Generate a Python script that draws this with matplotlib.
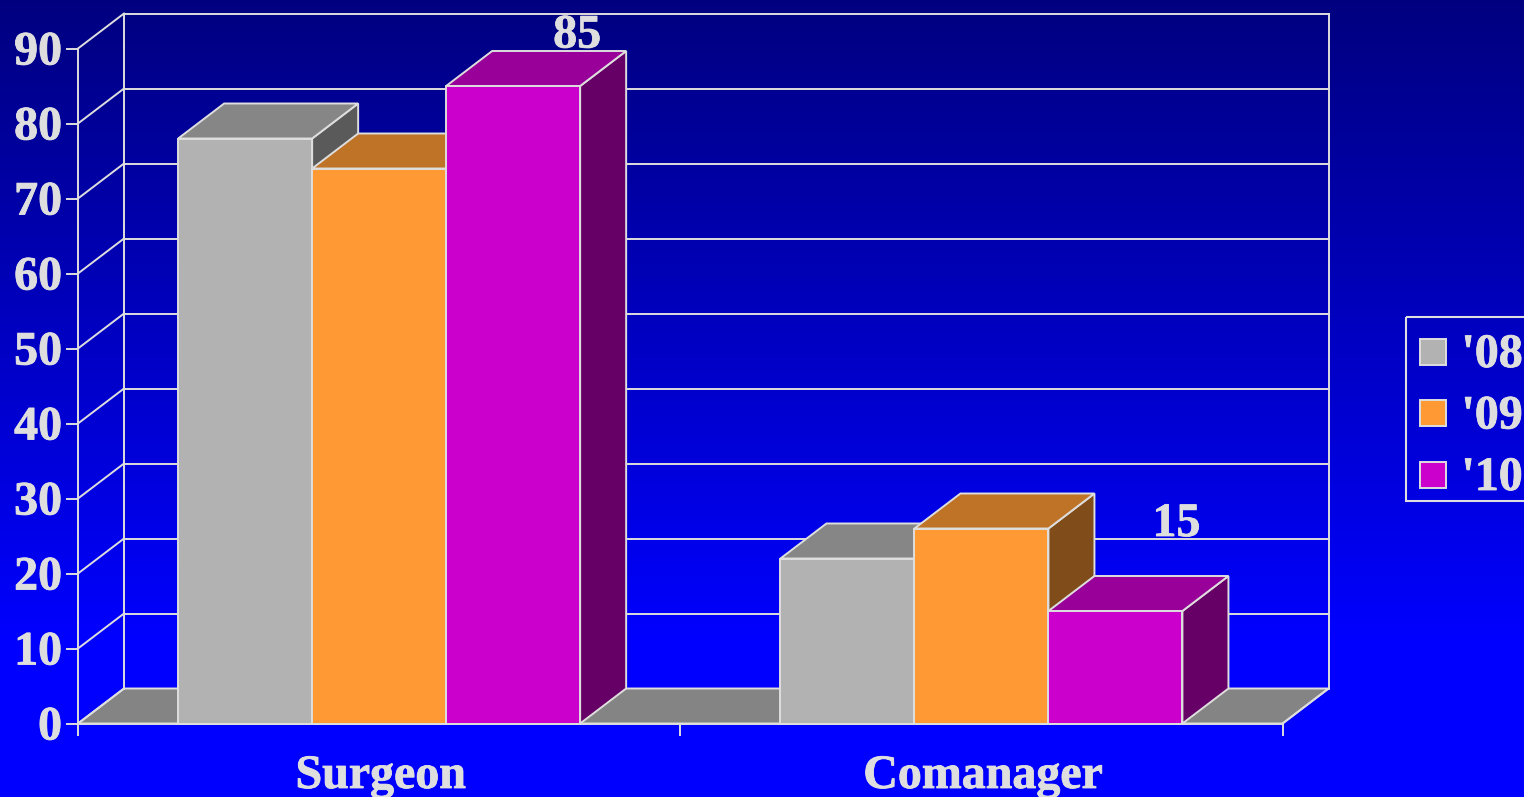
import numpy as np
import matplotlib
matplotlib.use("Agg")
import matplotlib.pyplot as plt
import matplotlib.patheffects as pe
from matplotlib.patches import Polygon, Rectangle

# ---- DATA ----
categories = ["Surgeon", "Comanager"]
series_names = ["'08", "'09", "'10"]
vals_08 = [78, 22]
vals_09 = [74, 26]
vals_10 = [85, 15]
y_ticks = [0, 10, 20, 30, 40, 50, 60, 70, 80, 90]

W, H = 1524, 797
front = ["#b2b2b2", "#ff9933", "#cc00cc"]
top = ["#868686", "#bf7326", "#990099"]
side = ["#5a5a5a", "#804d1a", "#660066"]
line = "#dedede"
txt = "#dedede"
fs = 34.5
thick = [pe.withStroke(linewidth=0.6, foreground=txt)]

plt.rcParams["font.family"] = ["Liberation Serif"]
plt.rcParams["font.weight"] = "bold"
plt.rcParams["text.hinting"] = "no_hinting"

fig = plt.figure(figsize=(W / 100, H / 100), dpi=100)

# background gradient, navy on top, pure blue from about y=640 down
bg = fig.add_axes([0, 0, 1, 1])
bg.axis("off")
grad = np.zeros((H, 1, 3))
grad[:, 0, 2] = np.interp(np.arange(H), [0, 640, H], [0.5, 1.0, 1.0])
bg.imshow(grad, aspect="auto", extent=[0, 1, 0, 1], origin="upper")

# axes stretched over the whole figure, x=0..2 is 78..1282.6 px, y=0..90 is 723.5..48.5 px
ax = fig.add_axes([0, 0, 1, 1])
ax.patch.set_alpha(0)
ax.axis("off")
px_x = 602.3
px_y = 7.5
x_org = 78
y_org = 723.5
ax.set_xlim(-x_org / px_x, (W - x_org) / px_x)
ax.set_ylim(-(H - y_org) / px_y, y_org / px_y)

dx = 46 / px_x   # depth offset
dy = 35 / px_y
ymax = y_ticks[-1]
lw = 1.4

# floor
ax.add_patch(Polygon([(0, 0), (2, 0), (2 + dx, dy), (dx, dy)], fc="#848484", ec=line, lw=lw, zorder=1))

# back wall + grid
for t in y_ticks:
    if t > 0:
        ax.plot([dx, 2 + dx], [t + dy, t + dy], color=line, lw=lw, zorder=1)
    ax.plot([0, dx], [t, t + dy], color=line, lw=lw, zorder=1)
    ax.plot([-11 / px_x, 0], [t, t], color=line, lw=lw, zorder=1)
    ax.text(-16 / px_x, t - 16 / px_y, str(t), ha="right", va="baseline", fontsize=fs, color=txt, path_effects=thick)
ax.plot([dx, dx], [dy, ymax + dy], color=line, lw=lw, zorder=1)
ax.plot([2 + dx, 2 + dx], [dy, ymax + dy], color=line, lw=lw, zorder=1)
ax.plot([0, 0], [0, ymax], color=line, lw=lw, zorder=1)
ax.plot([2, 2 + dx], [0, dy], color=line, lw=lw, zorder=1)

# x axis
ax.plot([0, 2], [0, 0], color=line, lw=lw, zorder=40)
for i in range(3):
    ax.plot([i, i], [0, -11 / px_y], color=line, lw=lw, zorder=40)
for i, c in enumerate(categories):
    ax.text(i + 0.5 + 1.5 / px_x, -64.5 / px_y, c, ha="center", va="baseline", fontsize=fs, color=txt, path_effects=thick)

# bars
bw = 134 / px_x
series = [vals_08, vals_09, vals_10]
z = 2
for c in range(len(categories)):
    for s in range(3):
        v = series[s][c]
        x0 = c + 0.5 + (s - 1.5) * bw
        x1 = x0 + bw
        ax.add_patch(Polygon([(x1, 0), (x1 + dx, dy), (x1 + dx, v + dy), (x1, v)], fc=side[s], ec=line, lw=lw, zorder=z))
        ax.add_patch(Polygon([(x0, v), (x1, v), (x1 + dx, v + dy), (x0 + dx, v + dy)], fc=top[s], ec=line, lw=lw, zorder=z))
        ax.add_patch(Rectangle((x0, 0), bw, v, fc=front[s], ec=line, lw=lw, zorder=z + 0.5))
        z += 1

# value labels only on the '10 bars, the chart placed them unevenly
label_dx = [-3, -6]
label_dy = [38.5, 75]
for c in range(len(categories)):
    v = vals_10[c]
    x1 = c + 0.5 + 1.5 * bw
    ax.text(x1 + label_dx[c] / px_x, v + label_dy[c] / px_y, str(v), ha="center", va="baseline",
            fontsize=fs, color=txt, zorder=50, path_effects=thick)

# legend drawn by hand, fig pixels
lax = fig.add_axes([0, 0, 1, 1])
lax.patch.set_alpha(0)
lax.axis("off")
lax.set_xlim(0, W)
lax.set_ylim(H, 0)
lax.add_patch(Rectangle((1406, 317), 130, 184, fc="none", ec=line, lw=1.5))
for i, n in enumerate(series_names):
    yy = 351.5 + i * 61.5
    lax.add_patch(Rectangle((1420, yy - 13), 26, 26, fc=front[i], ec=line, lw=1.4))
    lax.text(1461.5, yy + 15.5, n, ha="left", va="baseline", fontsize=fs, color=txt, path_effects=thick)

fig.savefig("out.png", dpi=100)
